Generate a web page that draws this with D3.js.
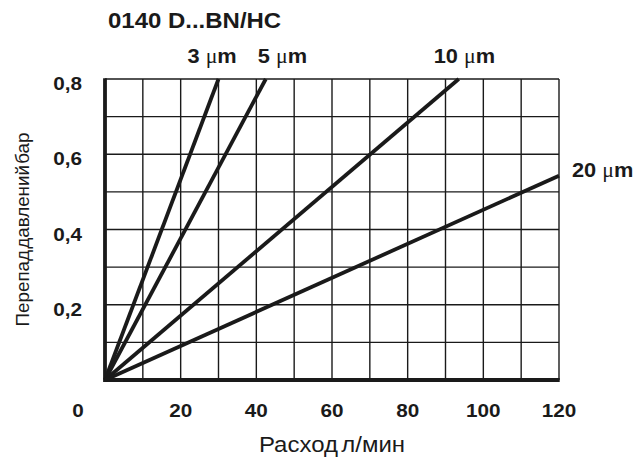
<!DOCTYPE html>
<html>
<head>
<meta charset="utf-8">
<script src="https://cdn.jsdelivr.net/npm/d3@7"></script>
<style>
  body { margin: 0; background: #fff; }
  text { font-family: "Liberation Sans", Arial, sans-serif; fill: #1a1a1a; }
</style>
</head>
<body>
<script>
// data
const seriesNames = ["3", "5", "10", "20"];
const seriesEnds = [[30, 0.8], [42.5, 0.8], [93.5, 0.8], [120, 0.543]];
const xTicks = [0, 20, 40, 60, 80, 100, 120];
const yTicks = [0.2, 0.4, 0.6, 0.8];
const xGrid = [10, 20, 30, 40, 50, 60, 70, 80, 90, 100, 110, 120];
const yGrid = [0.1, 0.2, 0.3, 0.4, 0.5, 0.6, 0.7, 0.8];

const width = 634;
const height = 459;
const ink = "#1a1a1a";
const stretch = 1.09; // the original lettering is a bit wide

const svg = d3.select("body")
    .append("svg")
    .attr("width", width)
    .attr("height", height);

const x = d3.scaleLinear().domain([0, 120]).range([105, 559]);
const y = d3.scaleLinear().domain([0, 0.8]).range([380, 79]);

const at = (px, py) => `translate(${px},${py}) scale(${stretch},1)`;

// grid
svg.append("g")
    .selectAll("line")
    .data(xGrid)
    .join("line")
    .attr("x1", d => x(d)).attr("x2", d => x(d))
    .attr("y1", y(0)).attr("y2", y(0.8))
    .attr("stroke", ink)
    .attr("stroke-width", 1.4);

svg.append("g")
    .selectAll("line")
    .data(yGrid)
    .join("line")
    .attr("x1", x(0)).attr("x2", x(120))
    .attr("y1", d => y(d)).attr("y2", d => y(d))
    .attr("stroke", ink)
    .attr("stroke-width", 1.4);

// heavy left and bottom axes
svg.append("path")
    .attr("d", `M${x(0)},${y(0.8) - 0.7}V${y(0)}H${x(120) + 0.7}`)
    .attr("fill", "none")
    .attr("stroke", ink)
    .attr("stroke-width", 3.8);

// curves
const line = d3.line().x(d => x(d[0])).y(d => y(d[1]));
svg.append("g")
    .selectAll("path")
    .data(seriesEnds)
    .join("path")
    .attr("d", d => line([[0, 0], d]))
    .attr("fill", "none")
    .attr("stroke", ink)
    .attr("stroke-width", 3.8);

// series labels
const labelDx = [-31, -8, -25, 13];
const labelDy = [-16, -16, -16, 1.5];
const lab = svg.append("g")
    .selectAll("text")
    .data(seriesNames)
    .join("text")
    .attr("transform", (d, i) => at(x(seriesEnds[i][0]) + labelDx[i], y(seriesEnds[i][1]) + labelDy[i]))
    .attr("font-size", 20)
    .attr("font-weight", "bold");
lab.append("tspan").text(d => d + " ");
lab.append("tspan")
    .attr("font-family", "'Liberation Serif', serif")
    .attr("font-weight", "normal")
    .text("\u03bc");
lab.append("tspan").text("m");

// tick labels
svg.append("g")
    .selectAll("text")
    .data(xTicks)
    .join("text")
    .attr("transform", d => at(d === 0 ? x(0) - 27 : x(d), 417))
    .attr("text-anchor", "middle")
    .attr("font-size", 19)
    .attr("font-weight", "bold")
    .text(d => d);

svg.append("g")
    .selectAll("text")
    .data(yTicks)
    .join("text")
    .attr("transform", d => at(82, y(d) + 11))
    .attr("text-anchor", "end")
    .attr("font-size", 19)
    .attr("font-weight", "bold")
    .text(d => d3.format(".1f")(d).replace(".", ","));

// titles
svg.append("text")
    .attr("transform", at(108, 28))
    .attr("font-size", 22)
    .attr("font-weight", "bold")
    .text("0140 D...BN/HC");

svg.append("text")
    .attr("transform", at(332, 452))
    .attr("text-anchor", "middle")
    .attr("font-size", 22)
    .attr("word-spacing", -3)
    .text("Расход л/мин");

svg.append("text")
    .attr("transform", "translate(29,229.5) rotate(-90)")
    .attr("text-anchor", "middle")
    .attr("font-size", 18.8)
    .attr("word-spacing", -4)
    .text("Перепад давлений бар");
</script>
</body>
</html>
